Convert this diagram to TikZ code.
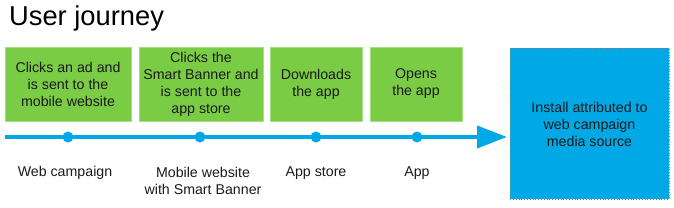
\documentclass[tikz,border=0pt]{standalone}
\usepackage{fontspec}
\setmainfont{Liberation Sans}
\definecolor{boxgreen}{HTML}{7ACC45}
\definecolor{edgegreen}{HTML}{A6DE86}
\definecolor{lineblue}{HTML}{00A9E6}
\definecolor{txt}{HTML}{1A1A1A}
\usetikzlibrary{arrows.meta}
\begin{document}
\begin{tikzpicture}[x=1pt,y=-1pt,
  stepbox/.style={draw=edgegreen,line width=0.8pt,fill=boxgreen,text=txt,align=center,
    font=\fontsize{14.2}{17}\selectfont},
  lbl/.style={text=txt,align=center,font=\fontsize{14.2}{17}\selectfont},
  dot/.style={circle,fill=lineblue,inner sep=0pt,minimum size=11pt}]
\useasboundingbox (0,0) rectangle (674,207);
\node[anchor=west,text=black,font=\fontsize{27.3}{30}\selectfont,inner sep=0pt] (title) at (9,18) {User journey};
\path[stepbox] (5,47) rectangle (131,121);
\path[stepbox] (139,47) rectangle (263,121);
\path[stepbox] (270,47) rectangle (362,121);
\path[stepbox] (370,47) rectangle (462,121);
\node[lbl] (t1) at (68,84) {Clicks an ad and\\is sent to the\\mobile website};
\node[lbl] (t2) at (201,84) {Clicks the\\Smart Banner and\\is sent to the\\app store};
\node[lbl] (t3) at (316,84) {Downloads\\the app};
\node[lbl] (t4) at (416,84) {Opens\\the app};
\path[draw=gray,dotted,line width=0.8pt,fill=lineblue] (510,48) rectangle (669,199);
\node[lbl] (res) at (589.5,124) {Install attributed to\\web campaign\\media source};
\coordinate (start) at (5,137);
\coordinate (tip) at (507,137);
\draw[lineblue,line width=4pt,-{Triangle[length=30pt,width=22pt]}] (start) -- (tip);
\node[dot] (d1) at (68,137) {};
\node[dot] (d2) at (200,137) {};
\node[dot] (d3) at (316,137) {};
\node[dot] (d4) at (417,137) {};
\node[lbl] (l1) at (65,173) {Web campaign};
\node[lbl] (l2) at (203,180.5) {Mobile website\\with Smart Banner};
\node[lbl] (l3) at (316,173) {App store};
\node[lbl] (l4) at (417,173) {App};
\end{tikzpicture}
\end{document}
